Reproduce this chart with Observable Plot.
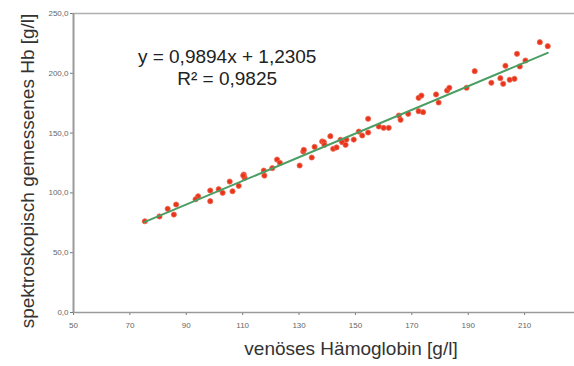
<!DOCTYPE html>
<html>
<head>
<meta charset="utf-8">
<script src="https://cdn.jsdelivr.net/npm/d3@7"></script>
<script src="https://cdn.jsdelivr.net/npm/@observablehq/plot@0.6"></script>
<style>
  html, body { margin: 0; padding: 0; background: #fff; overflow: hidden; }
  #chart svg { display: block; font-family: "Liberation Sans", Arial, sans-serif; }
</style>
</head>
<body>
<div id="chart"></div>
<script>
// venöses Hämoglobin [g/l] (x) vs spektroskopisch gemessenes Hb [g/l] (y)
const venous = [75.3, 80.5, 83.4, 86.4, 85.6, 94.2, 93.3, 98.5, 98.5, 101.5, 102.9, 105.4, 106.4, 108.6, 110.4, 110.7,
  110.2, 117.5, 117.7, 120.5, 122.2, 123.2, 130.2, 131.5, 131.7, 134.5, 135.5, 138.2, 138.8, 139.0, 141.1, 142.1, 143.3,
  144.7, 145.3, 146.8, 146.5, 149.4, 151.2, 152.4, 154.5, 154.5, 158.3, 160.0, 161.8, 165.4, 166.0, 168.7, 172.4, 174.0,
  172.4, 173.4, 178.6, 179.5, 182.5, 183.3, 189.4, 192.3, 198.2, 201.4, 202.4, 203.2, 204.7, 206.4, 207.3, 208.3, 210.3,
  215.4, 218.2];
const spectro = [76.3, 80.3, 86.7, 90.3, 81.9, 97.2, 94.7, 102.0, 93.1, 103.1, 100.1, 109.5, 101.4, 105.9, 115.4, 112.6,
  114.5, 118.7, 114.5, 120.7, 127.9, 125.2, 122.9, 134.6, 136.0, 129.6, 138.5, 143.0, 142.4, 140.2, 147.4, 136.9, 138.0,
  144.4, 142.4, 144.6, 140.2, 144.6, 151.3, 148.0, 162.0, 150.5, 155.5, 154.4, 154.4, 164.7, 161.1, 166.1, 168.3, 167.5,
  179.5, 181.4, 182.3, 175.6, 185.6, 187.9, 187.9, 201.8, 192.1, 195.9, 191.2, 206.3, 194.6, 195.4, 216.3, 205.7, 210.7,
  226.0, 222.7];
const slope = 0.9894, intercept = 1.2305;
const equationLines = ["y = 0,9894x + 1,2305", "R² = 0,9825"];
const equationX = [104.5, 104.5];
const equationY = [214, 195.5];
const xTicks = [50, 70, 90, 110, 130, 150, 170, 190, 210, 230];
const yTicks = [0, 50, 100, 150, 200, 250];
const xLabel = "venöses Hämoglobin [g/l]";
const yLabel = "spektroskopisch gemessenes Hb [g/l]";

const points = venous.map((v, i) => ({x: v, y: spectro[i]}));
const xMin = d3.min(venous), xMax = d3.max(venous);
const fit = [xMin, xMax].map(x => ({x, y: slope * x + intercept}));
const eq = equationLines.map((t, i) => ({t, x: equationX[i], y: equationY[i]}));

const chart = Plot.plot({
  width: 574,
  height: 366,
  marginLeft: 73,
  marginTop: 13,
  marginBottom: 54,
  marginRight: 0,
  x: {domain: [50, 230], range: [73, 580.5]},
  y: {domain: [0, 250], range: [312, 13]},
  marks: [
    Plot.ruleY([250], {stroke: "#b0b0b0", strokeWidth: 1.5}),
    Plot.axisX({ticks: xTicks, tickSize: 3, tickPadding: 7, fontSize: 8, stroke: "#777", color: "#666", label: null}),
    Plot.axisY({ticks: yTicks, tickSize: 3, tickPadding: 2, fontSize: 8, stroke: "#777", color: "#666", label: null,
      tickFormat: d => d.toFixed(1).replace(".", ",")}),
    Plot.ruleX([50], {stroke: "#9a9a9a", strokeWidth: 2}),
    Plot.ruleY([0], {stroke: "#9a9a9a", strokeWidth: 1.5}),
    Plot.dot(points, {x: "x", y: "y", r: 2.6, fill: "#e8341c", stroke: "#f06a50", strokeWidth: 0.8}),
    Plot.line(fit, {x: "x", y: "y", stroke: "#4a9e64", strokeWidth: 2}),
    Plot.text(eq, {x: "x", y: "y", text: "t", fontSize: 19, fill: "#222"}),
    Plot.text([xLabel], {frameAnchor: "bottom", dy: 42, dx: 27, fontSize: 19, fill: "#333"}),
    Plot.text([yLabel], {frameAnchor: "left", textAnchor: "middle", dx: -46, dy: 8, rotate: -90, fontSize: 19, fill: "#333"})
  ]
});
document.getElementById("chart").appendChild(chart);
</script>
</body>
</html>
